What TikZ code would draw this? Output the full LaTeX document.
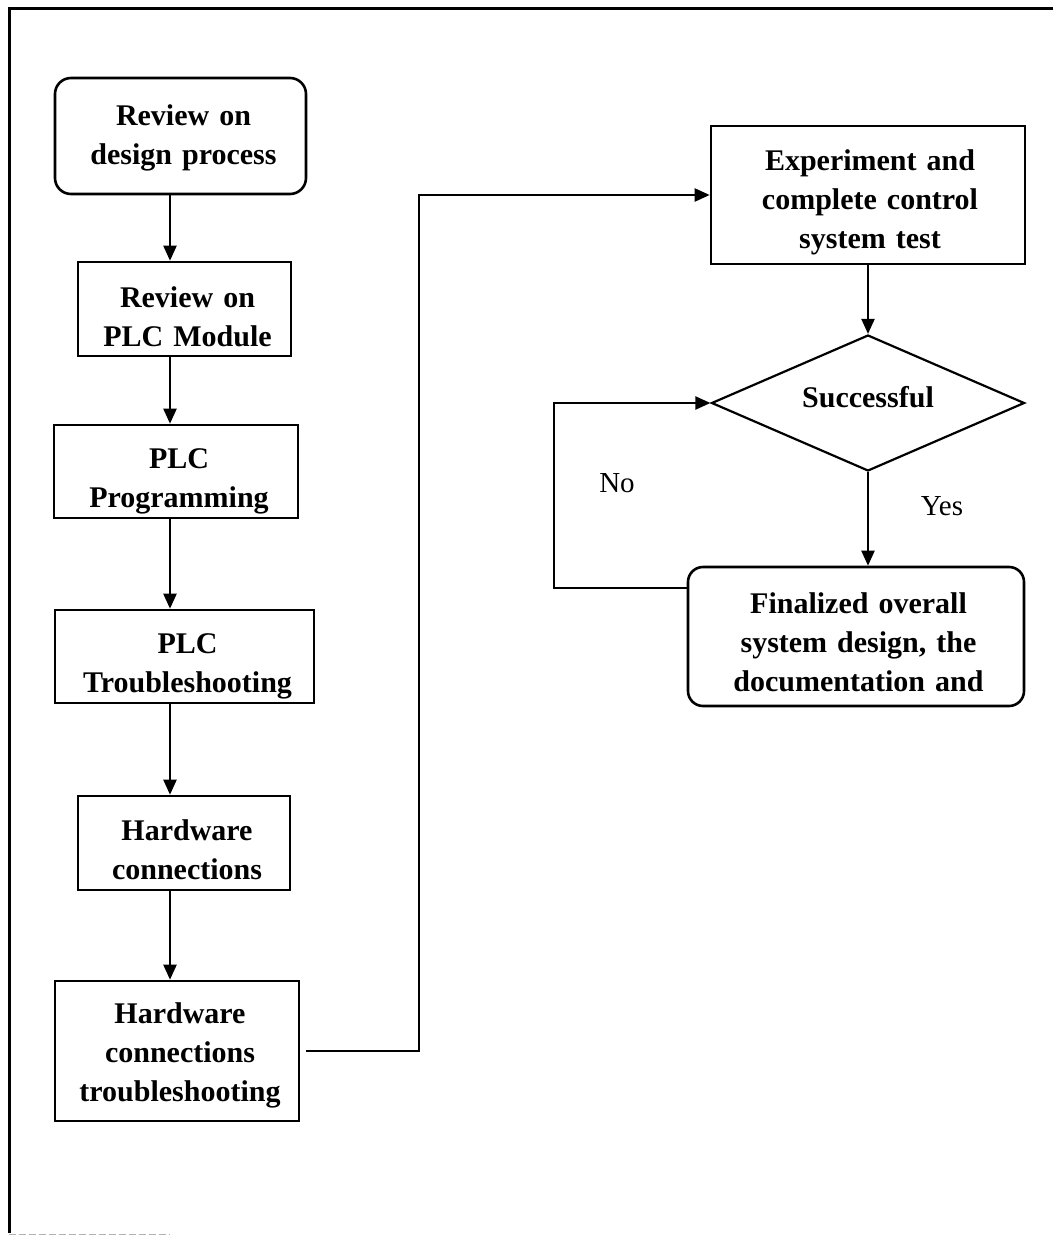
\documentclass[tikz,border=0pt]{standalone}
\usepackage{fontspec}
\setmainfont{Liberation Serif}
\usetikzlibrary{arrows.meta,shapes.geometric,calc}
\begin{document}
\begin{tikzpicture}[x=1pt,y=-1pt,
  box/.style={draw, line width=2.6pt, inner sep=0pt, rectangle},
  rbox/.style={box, rounded corners=16pt},
  txt/.style={text width=330pt, align=center, anchor=base, inner sep=0pt,
    font=\fontsize{30}{39}\selectfont\bfseries},
  lbl/.style={anchor=base, inner sep=0pt, font=\fontsize{29}{35}\selectfont},
  arr/.style={line width=2.2pt, -{Triangle[length=15pt,width=13pt]}},
]
\useasboundingbox (0,0) rectangle (1052,1236);
% outer frame
\draw[line width=3pt] (9,1233) -- (9,9) -- (1060,9);
\draw[line width=1pt, gray!60, dash pattern=on 7pt off 3pt] (9,1234) -- (170,1234);

% left column boxes
\node[rbox, minimum width=251pt, minimum height=116pt] (b1) at (180.5,136) {};
\node[box, minimum width=213pt, minimum height=94pt] (b2) at (184.5,309) {};
\node[box, minimum width=244pt, minimum height=93pt] (b3) at (176,471.5) {};
\node[box, minimum width=259pt, minimum height=93pt] (b4) at (184.5,656.5) {};
\node[box, minimum width=212pt, minimum height=94pt] (b5) at (184,843) {};
\node[box, minimum width=244pt, minimum height=140pt] (b6) at (177,1051) {};

\node[txt] (t1) at (183.5,126) {Review on\\design process};
\node[txt] (t2) at (187.5,307) {Review on\\PLC Module};
\node[txt] (t3) at (179,468) {PLC\\Programming};
\node[txt] (t4) at (187.5,653) {PLC\\Troubleshooting};
\node[txt] (t5) at (187,840) {Hardware\\connections};
\node[txt] (t6) at (180,1023) {Hardware\\connections\\troubleshooting};

% right column
\node[box, minimum width=314pt, minimum height=138pt] (b7) at (868,195) {};
\node[draw, line width=2.2pt, diamond, inner sep=0pt, minimum width=313pt, minimum height=136pt] (dia) at (868,403) {};
\node[rbox, rounded corners=15pt, minimum width=336pt, minimum height=139pt] (b8) at (856,636.5) {};

\node[txt] (t7) at (870,170) {Experiment and\\complete control\\system test};
\node[txt] (td) at (868,407) {Successful};
\node[txt] (t8) at (858.5,613) {Finalized overall\\system design, the\\documentation and};

\node[lbl] (no) at (617,492) {No};
\node[lbl] (yes) at (942,515) {Yes};

% connectors
\coordinate (col) at (170,0);
\draw[arr] (b1.south -| col) -- (b2.north -| col);
\draw[arr] (b2.south -| col) -- (b3.north -| col);
\draw[arr] (b3.south -| col) -- (b4.north -| col);
\draw[arr] (b4.south -| col) -- (b5.north -| col);
\draw[arr] (b5.south -| col) -- (b6.north -| col);

\coordinate (jog) at (419,600);
\draw[arr, shorten <=6pt] (b6.east) -| (jog) |- (b7.west);
\draw[arr] (b7.south) -- (dia.north);
\draw[arr] (dia.south) -- (dia.south |- b8.north);
\coordinate (loopL) at (554,588);
\draw[arr] (b8.west |- loopL) -- (loopL) |- (dia.west);
\end{tikzpicture}
\end{document}
